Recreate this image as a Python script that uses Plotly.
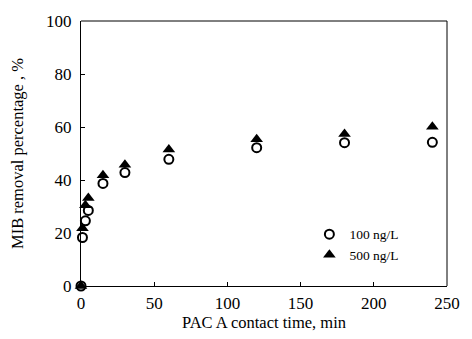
import plotly.graph_objects as go

time_min = [0, 1, 3, 5, 15, 30, 60, 120, 180, 240]
removal_100 = [0, 18.3, 24.6, 28.5, 38.7, 42.8, 47.8, 52.2, 54.1, 54.2]
time_500 = [0, 1, 3, 5, 15, 30, 60, 120, 180, 240]
removal_500 = [0, 21.8, 30.5, 33.2, 41.8, 45.8, 51.5, 55.4, 57.4, 60.1]

font_family = "Liberation Serif, Times New Roman, serif"

fig = go.Figure()
fig.add_trace(go.Scatter(
    x=time_min, y=removal_100, mode="markers", name="100 ng/L", cliponaxis=False,
    marker=dict(symbol="circle-open", size=9, color="black", line=dict(width=2, color="black")),
))
fig.add_trace(go.Scatter(
    x=time_500, y=removal_500, mode="markers", name="500 ng/L", cliponaxis=False,
    marker=dict(symbol="triangle-up", size=11, color="black"),
))

axis_common = dict(
    showgrid=False, zeroline=False, showline=True, linecolor="black", linewidth=1,
    ticks="inside", ticklen=4, tickcolor="black", automargin=True,
    tickfont=dict(family=font_family, size=17, color="black"),
)

fig.update_layout(
    width=472, height=339,
    margin=dict(l=81, r=14, t=21, b=53),
    paper_bgcolor="white", plot_bgcolor="white",
    font=dict(family=font_family, color="black"),
    showlegend=True,
    legend=dict(x=0.624, y=0.155, xanchor="left", yanchor="middle",
                font=dict(family=font_family, size=13.5, color="black"),
                bgcolor="rgba(0,0,0,0)", itemwidth=30, tracegroupgap=0),
    xaxis=dict(range=[0, 250], tickvals=[0, 50, 100, 150, 200, 250],
               title=dict(text="PAC A contact time, min", font=dict(family=font_family, size=16.5), standoff=0),
               ticklabelstandoff=2,
               **axis_common),
    yaxis=dict(range=[0, 100], tickvals=[0, 20, 40, 60, 80, 100],
               title=dict(text="MIB removal percentage , %", font=dict(family=font_family, size=16.5), standoff=18),
               ticklabelstandoff=5,
               **axis_common),
)
fig.add_shape(type="line", xref="paper", yref="paper", x0=0, x1=1, y0=1, y1=1, line=dict(color="black", width=1))
fig.add_shape(type="line", xref="paper", yref="paper", x0=1, x1=1, y0=0, y1=1, line=dict(color="black", width=1))

fig.write_html("out.html", config={"displayModeBar": False},
               post_script="document.body.style.margin='0';")
